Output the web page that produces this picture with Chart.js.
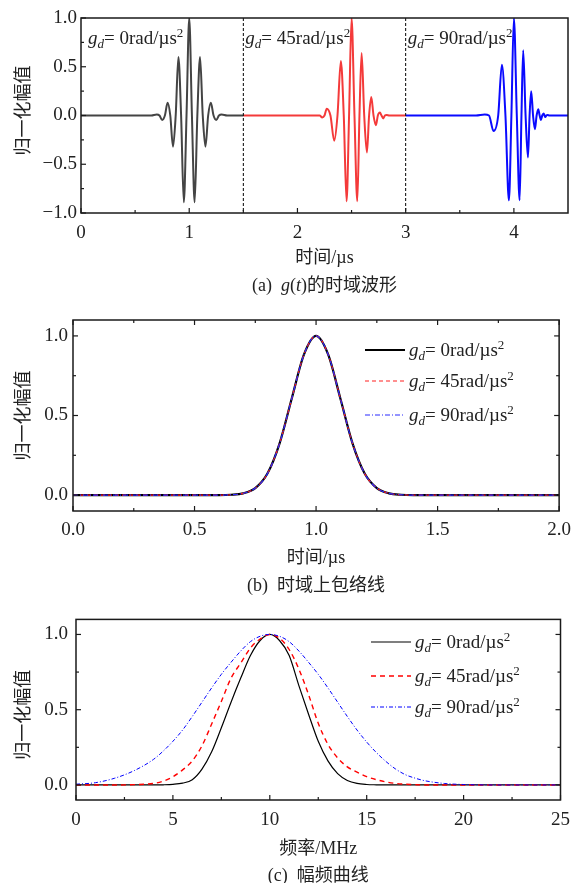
<!DOCTYPE html>
<html>
<head>
<meta charset="utf-8">
<script src="https://cdn.jsdelivr.net/npm/chart.js@4.4.1/dist/chart.umd.min.js"></script>
<style>
  html, body { margin: 0; padding: 0; background: #fff; }
  #wrap { position: relative; width: 579px; height: 883px; overflow: hidden; }
  canvas { position: absolute; left: 0; }
</style>
</head>
<body>
<div id="wrap">
  <canvas id="chartA" width="579" height="300" style="top:0"></canvas>
  <canvas id="chartB" width="579" height="300" style="top:300px"></canvas>
  <canvas id="chartC" width="579" height="283" style="top:600px"></canvas>
</div>
<script>
// ---- (a) g(t) waveform (extrema + zero crossings)
const blackT = [0, 0.65, 0.7, 0.725, 0.75, 0.775, 0.8, 0.825, 0.85, 0.875, 0.9, 0.925, 0.95, 0.975, 1.0, 1.025, 1.05, 1.075, 1.1, 1.125, 1.15, 1.175, 1.2, 1.225, 1.25, 1.275, 1.3, 1.35, 1.5];
const blackV = [0, 0, 0.01, 0, -0.046, 0, 0.13, 0, -0.32, 0, 0.6, 0, -0.89, 0, 1.0, 0, -0.89, 0, 0.6, 0, -0.32, 0, 0.13, 0, -0.046, 0, 0.01, 0, 0];
const redT = [1.5, 2.15, 2.205, 2.229, 2.25, 2.271, 2.305, 2.34, 2.37, 2.401, 2.428, 2.454, 2.477, 2.5, 2.527, 2.553, 2.573, 2.593, 2.617, 2.642, 2.662, 2.682, 2.703, 2.725, 2.743, 2.762, 2.777, 2.793, 2.808, 2.824, 2.85, 3.0];
const redV = [0, 0, 0, -0.02, 0, 0.07, 0, -0.26, 0, 0.56, 0, -0.88, 0, 1.0, 0, -0.88, 0, 0.64, 0, -0.38, 0, 0.19, 0, -0.1, 0, 0.03, 0, -0.03, 0, 0.005, 0, 0];
const blueT = [3.0, 3.65, 3.73, 3.77, 3.812, 3.855, 3.889, 3.922, 3.954, 3.977, 4.0, 4.027, 4.053, 4.07, 4.086, 4.108, 4.13, 4.145, 4.16, 4.177, 4.194, 4.21, 4.225, 4.238, 4.25, 4.262, 4.275, 4.283, 4.29, 4.3, 4.31, 4.33, 4.5];
const blueV = [0, 0, 0.01, 0, -0.16, 0, 0.52, 0, -0.87, 0, 1.0, 0, -0.87, 0, 0.67, 0, -0.43, 0, 0.25, 0, -0.14, 0, 0.064, 0, -0.046, 0, 0.02, 0, -0.015, 0, 0.005, 0, 0];
const windowStart = [0, 1.5, 3];
const dividers = [1.5, 3];
const gdValues = ['0', '45', '90'];

// ---- (b) envelope (all three curves overlap)
const envT = [0, 0.5, 0.6, 0.65, 0.7, 0.75, 0.8, 0.85, 0.9, 0.95, 1.0, 1.05, 1.1, 1.15, 1.2, 1.25, 1.3, 1.35, 1.4, 1.5, 2.0];
const env0 = [0, 0, 0, 0.002, 0.011, 0.044, 0.135, 0.325, 0.607, 0.882, 1.0, 0.882, 0.607, 0.325, 0.135, 0.044, 0.011, 0.002, 0, 0, 0];
const env45 = [0, 0, 0, 0.002, 0.011, 0.044, 0.135, 0.325, 0.607, 0.882, 1.0, 0.882, 0.607, 0.325, 0.135, 0.044, 0.011, 0.002, 0, 0, 0];
const env90 = [0, 0, 0, 0.002, 0.011, 0.044, 0.135, 0.325, 0.607, 0.882, 1.0, 0.882, 0.607, 0.325, 0.135, 0.044, 0.011, 0.002, 0, 0, 0];

// ---- (c) amplitude spectrum
const freq = [0, 1, 2, 3, 4, 4.5, 5, 5.5, 6, 6.5, 7, 7.5, 8, 8.5, 9, 9.5, 10, 10.5, 11, 11.5, 12, 12.5, 13, 13.5, 14, 14.5, 15, 15.5, 16, 16.5, 17, 17.5, 18, 19, 20, 22, 25];
const spec0 = [0, 0, 0, 0, 0, 0.001, 0.004, 0.012, 0.035, 0.105, 0.22, 0.38, 0.55, 0.71, 0.86, 0.96, 1.0, 0.96, 0.86, 0.66, 0.47, 0.29, 0.16, 0.075, 0.03, 0.01, 0.003, 0.001, 0, 0, 0, 0, 0, 0, 0, 0, 0];
const spec45 = [0, 0, 0, 0.002, 0.01, 0.025, 0.055, 0.1, 0.16, 0.26, 0.405, 0.555, 0.71, 0.81, 0.91, 0.97, 1.0, 0.975, 0.9, 0.77, 0.6, 0.41, 0.27, 0.18, 0.12, 0.085, 0.055, 0.035, 0.02, 0.01, 0.005, 0.002, 0, 0, 0, 0, 0];
const spec90 = [0.005, 0.015, 0.045, 0.095, 0.17, 0.225, 0.29, 0.365, 0.455, 0.55, 0.645, 0.735, 0.815, 0.89, 0.952, 0.988, 1.0, 0.988, 0.952, 0.89, 0.815, 0.735, 0.645, 0.55, 0.455, 0.365, 0.285, 0.215, 0.155, 0.105, 0.068, 0.045, 0.028, 0.01, 0.003, 0, 0];

// ---- ticks
const aXTicks = [0, 1, 2, 3, 4], aXLabels = ['0', '1', '2', '3', '4'], aXMinor = [0.5, 1.5, 2.5, 3.5];
const aYTicks = [-1, -0.5, 0, 0.5, 1], aYLabels = ['\u22121.0', '\u22120.5', '0.0', '0.5', '1.0'], aYMinor = [-0.75, -0.25, 0.25, 0.75];
const bXTicks = [0, 0.5, 1, 1.5, 2], bXLabels = ['0.0', '0.5', '1.0', '1.5', '2.0'], bXMinor = [0.25, 0.75, 1.25, 1.75];
const bYTicks = [0, 0.5, 1], bYLabels = ['0.0', '0.5', '1.0'], bYMinor = [0.25, 0.75];
const cXTicks = [0, 5, 10, 15, 20, 25], cXLabels = ['0', '5', '10', '15', '20', '25'], cXMinor = [2.5, 7.5, 12.5, 17.5, 22.5];
const cYTicks = [0, 0.5, 1], cYLabels = ['0.0', '0.5', '1.0'], cYMinor = [0.25, 0.75];

const SERIF = "'Liberation Serif', 'Times New Roman', 'Noto Sans CJK SC', serif";
const TEXT = '#222';

const pts = (xs, ys) => xs.map((x, i) => ({ x: x, y: ys[i] }));

function fontFor(style, size) {
    const small = style.includes('sub') || style.includes('sup');
    return (style.includes('i') ? 'italic ' : '') + (small ? Math.round(size * 0.66) : size) + 'px ' + SERIF;
}

// draw mixed-style text (italic, sub, sup) starting at x, or centred on x
function drawParts(ctx, parts, x, y, centre, size) {
    let total = 0;
    parts.forEach((p) => { ctx.font = fontFor(p[1], size); total += ctx.measureText(p[0]).width; });
    let cx = centre ? x - total / 2 : x;
    ctx.textAlign = 'left';
    ctx.textBaseline = 'alphabetic';
    ctx.fillStyle = TEXT;
    parts.forEach((p) => {
        ctx.font = fontFor(p[1], size);
        const dy = p[1].includes('sub') ? 4 : p[1].includes('sup') ? -7 : 0;
        ctx.fillText(p[0], cx, y + dy);
        cx += ctx.measureText(p[0]).width;
    });
}

const gdParts = (v) => [['g', 'i'], ['d', 'isub'], ['= ' + v + 'rad/\u00b5s', ''], ['2', 'sup']];

function line(ctx, x1, y1, x2, y2) {
    ctx.beginPath();
    ctx.moveTo(x1, y1);
    ctx.lineTo(x2, y2);
    ctx.stroke();
}

// box, inward ticks, axis titles, caption
function decorate(chart, cfg) {
    const { ctx, chartArea: a } = chart;
    const sx = chart.scales.x, sy = chart.scales.y;
    ctx.save();
    ctx.strokeStyle = '#1a1a1a';
    ctx.lineWidth = 1.5;
    ctx.strokeRect(a.left, a.top, a.right - a.left, a.bottom - a.top);
    ctx.lineWidth = 1.2;
    const xt = (vals, len) => vals.forEach((v) => {
        const p = sx.getPixelForValue(v);
        line(ctx, p, a.bottom, p, a.bottom - len);
        if (cfg.top) line(ctx, p, a.top, p, a.top + len);
    });
    const yt = (vals, len) => vals.forEach((v) => {
        const p = sy.getPixelForValue(v);
        line(ctx, a.left, p, a.left + len, p);
        if (cfg.right) line(ctx, a.right, p, a.right - len, p);
    });
    xt(cfg.xMajor, 5); xt(cfg.xMinor, 3);
    yt(cfg.yMajor, 5); yt(cfg.yMinor, 3);

    // y title, rotated
    ctx.save();
    ctx.translate(24, (a.top + a.bottom) / 2 + cfg.yTitleShift);
    ctx.rotate(-Math.PI / 2);
    ctx.font = '18px ' + SERIF;
    ctx.fillStyle = TEXT;
    ctx.textAlign = 'center';
    ctx.textBaseline = 'middle';
    ctx.fillText('归一化幅值', 0, 0);
    ctx.restore();

    const mid = (a.left + a.right) / 2;
    drawParts(ctx, [[cfg.xTitle, '']], mid, cfg.xTitleY, true, 18);
    drawParts(ctx, cfg.caption, mid, cfg.captionY, true, 18);
    ctx.restore();
}

function legend(chart, rows, x0, x1) {
    const ctx = chart.ctx;
    const ds = chart.data.datasets;
    ctx.save();
    rows.forEach((y, i) => {
        ctx.strokeStyle = ds[i].borderColor;
        ctx.lineWidth = ds[i].borderWidth;
        ctx.setLineDash(ds[i].borderDash || []);
        line(ctx, x0, y, x1, y);
        ctx.setLineDash([]);
        drawParts(ctx, gdParts(gdValues[i]), x1 + 4, y + 6, false, 19);
    });
    ctx.restore();
}

function fixedTicks(values) {
    return (s) => { s.ticks = values.map((v) => ({ value: v })); };
}

function axes(xMin, xMax, yMin, yMax, xT, xL, yT, yL, yWidth, xHeight, xPad, yPad) {
    const tickFont = { family: SERIF, size: 19 };
    return {
        x: {
            type: 'linear', min: xMin, max: xMax,
            grid: { display: false, drawTicks: false }, border: { display: false },
            afterBuildTicks: fixedTicks(xT),
            afterFit: (s) => { s.height = xHeight; },
            ticks: { font: tickFont, color: TEXT, padding: xPad, maxRotation: 0, autoSkip: false, callback: (v, i) => xL[i] },
        },
        y: {
            type: 'linear', min: yMin, max: yMax,
            grid: { display: false, drawTicks: false }, border: { display: false },
            afterBuildTicks: fixedTicks(yT),
            afterFit: (s) => { s.width = yWidth; },
            ticks: { font: tickFont, color: TEXT, padding: yPad, autoSkip: false, callback: (v, i) => yL[i] },
        },
    };
}

const base = {
    responsive: false,
    animation: false,
    devicePixelRatio: 1,
    events: [],
    elements: { point: { radius: 0 } },
};

// ---------- (a)
new Chart(document.getElementById('chartA'), {
    type: 'line',
    data: {
        datasets: [
            { data: pts(blackT, blackV), borderColor: '#444', borderWidth: 2, cubicInterpolationMode: 'monotone' },
            { data: pts(redT, redV), borderColor: '#f43a3a', borderWidth: 2, cubicInterpolationMode: 'monotone' },
            { data: pts(blueT, blueV), borderColor: '#0a0aff', borderWidth: 2, cubicInterpolationMode: 'monotone' },
        ],
    },
    options: Object.assign({}, base, {
        layout: { padding: { top: 18, right: 11, left: 0, bottom: 0 } },
        plugins: { legend: { display: false }, tooltip: { enabled: false } },
        scales: axes(0, 4.5, -1, 1, aXTicks, aXLabels, aYTicks, aYLabels, 81, 87, 9, 4),
    }),
    plugins: [{
        id: 'decorA',
        afterDraw(chart) {
            const { ctx, chartArea: a } = chart;
            const sx = chart.scales.x;
            ctx.save();
            ctx.strokeStyle = '#000';
            ctx.lineWidth = 1;
            ctx.setLineDash([3, 2]);
            dividers.forEach((v) => { const p = sx.getPixelForValue(v); line(ctx, p, a.top, p, a.bottom); });
            ctx.restore();
            windowStart.forEach((v, i) => {
                drawParts(ctx, gdParts(gdValues[i]), sx.getPixelForValue(v) + (i === 0 ? 7 : 2), a.top + 26, false, 19);
            });
            decorate(chart, {
                xMajor: aXTicks, xMinor: aXMinor, yMajor: aYTicks, yMinor: aYMinor,
                top: false, right: false, yTitleShift: -5,
                xTitle: '时间/\u00b5s', xTitleY: 263,
                caption: [['(a)  ', ''], ['g', 'i'], ['(', ''], ['t', 'i'], [')的时域波形', '']], captionY: 291,
            });
        },
    }],
});

// ---------- (b)
new Chart(document.getElementById('chartB'), {
    type: 'line',
    data: {
        datasets: [
            { data: pts(envT, env0), borderColor: '#000', borderWidth: 2.2, cubicInterpolationMode: 'monotone', order: 3 },
            { data: pts(envT, env45), borderColor: '#ff2020', borderWidth: 1.2, borderDash: [4, 3], cubicInterpolationMode: 'monotone', order: 2 },
            { data: pts(envT, env90), borderColor: '#2a2aff', borderWidth: 1.2, borderDash: [5, 2, 1, 2], cubicInterpolationMode: 'monotone', order: 1 },
        ],
    },
    options: Object.assign({}, base, {
        layout: { padding: { top: 20, right: 18, left: 0, bottom: 0 } },
        plugins: { legend: { display: false }, tooltip: { enabled: false } },
        scales: axes(0, 2, -0.1, 1.1, bXTicks, bXLabels, bYTicks, bYLabels, 73, 89, 8, 5),
    }),
    plugins: [{
        id: 'decorB',
        afterDraw(chart) {
            legend(chart, [50, 81, 115], 365, 405);
            decorate(chart, {
                xMajor: bXTicks, xMinor: bXMinor, yMajor: bYTicks, yMinor: bYMinor,
                top: true, right: true, yTitleShift: 0,
                xTitle: '时间/\u00b5s', xTitleY: 263,
                caption: [['(b)  时域上包络线', '']], captionY: 291,
            });
        },
    }],
});

// ---------- (c)
new Chart(document.getElementById('chartC'), {
    type: 'line',
    data: {
        datasets: [
            { data: pts(freq, spec0), borderColor: '#000', borderWidth: 1.2, cubicInterpolationMode: 'monotone', order: 3 },
            { data: pts(freq, spec45), borderColor: '#ff0000', borderWidth: 1.4, borderDash: [5, 4], cubicInterpolationMode: 'monotone', order: 2 },
            { data: pts(freq, spec90), borderColor: '#0000ff', borderWidth: 1, borderDash: [4, 2, 1, 2], cubicInterpolationMode: 'monotone', order: 1 },
        ],
    },
    options: Object.assign({}, base, {
        layout: { padding: { top: 17, right: 16, left: 0, bottom: 0 } },
        plugins: { legend: { display: false }, tooltip: { enabled: false } },
        scales: axes(0, 25, -0.1, 1.1, cXTicks, cXLabels, cYTicks, cYLabels, 76, 83, 9, 8),
    }),
    plugins: [{
        id: 'decorC',
        afterDraw(chart) {
            legend(chart, [42, 76, 107], 371, 411);
            decorate(chart, {
                xMajor: cXTicks, xMinor: cXMinor, yMajor: cYTicks, yMinor: cYMinor,
                top: false, right: true, yTitleShift: 5,
                xTitle: '频率/MHz', xTitleY: 254,
                caption: [['(c)  幅频曲线', '']], captionY: 281,
            });
        },
    }],
});
</script>
</body>
</html>
